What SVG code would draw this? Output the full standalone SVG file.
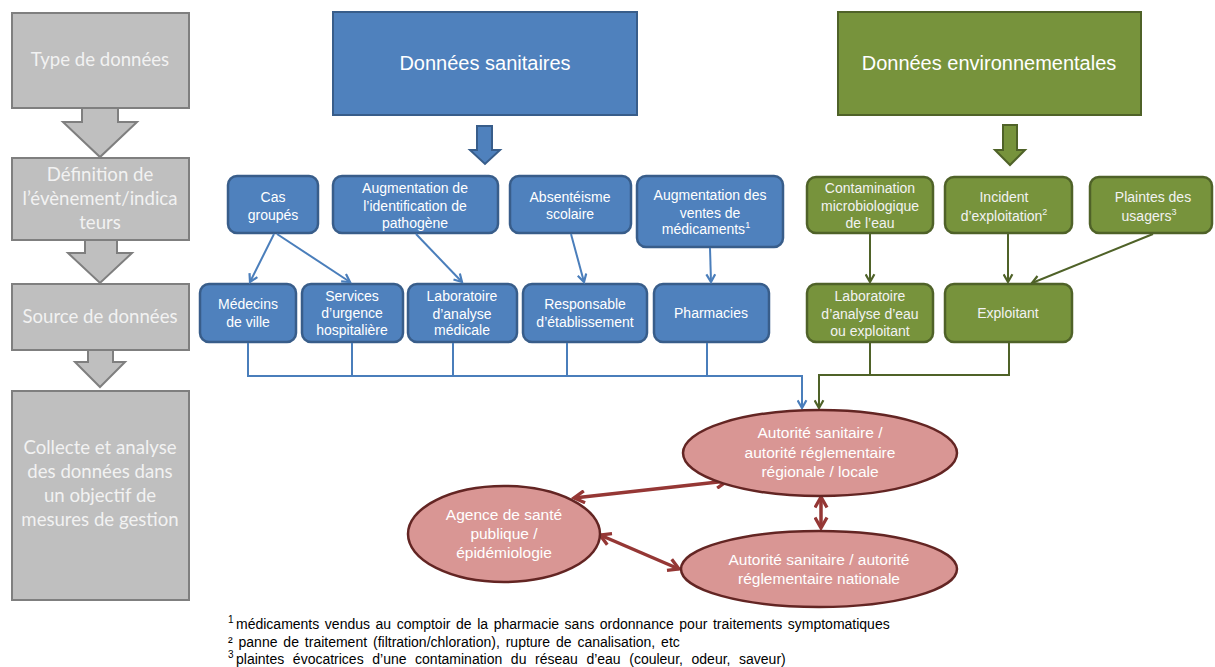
<svg xmlns="http://www.w3.org/2000/svg" width="1215" height="667" viewBox="0 0 1215 667">
<style>
.gbox{fill:#bfbfbf;stroke:#7f7f7f;stroke-width:2}
.gtxt{font-family:Lato,"Open Sans",sans-serif;font-size:18.6px;fill:#f2f2f2;text-anchor:middle}
.bbig{fill:#4f81bd;stroke:#385d8a;stroke-width:2}
.gbig{fill:#77933c;stroke:#4f6228;stroke-width:2}
.bsm{fill:#4f81bd;stroke:#385d8a;stroke-width:2.5}
.gsm{fill:#77933c;stroke:#4f6228;stroke-width:2.5}
.big{font-family:"Liberation Sans",Arial,sans-serif;font-size:20px;fill:#ffffff;text-anchor:middle}
.sm{font-family:"Liberation Sans",Arial,sans-serif;font-size:14px;fill:#ffffff;text-anchor:middle}
.smg{font-family:"Liberation Sans",Arial,sans-serif;font-size:14px;fill:#f2f2f2;text-anchor:middle}
.ell{fill:#d99694;stroke:#632523;stroke-width:2.5}
.etxt{font-family:"Liberation Sans",Arial,sans-serif;font-size:15.5px;fill:#ffffff;text-anchor:middle}
.sup{font-size:9px}
.bl{fill:none;stroke:#4a7ebb;stroke-width:2}
.gl{fill:none;stroke:#4f6228;stroke-width:2}
.rl{fill:none;stroke:#953735;stroke-width:3.5}
.fn{font-family:"Liberation Sans",Arial,sans-serif;font-size:14px;fill:#000000}
.fs{font-family:"Liberation Sans",Arial,sans-serif;font-size:10px;fill:#000000}
</style>
<defs>
<marker id="ab" viewBox="0 0 10 10" refX="8" refY="5" markerWidth="11" markerHeight="11" markerUnits="userSpaceOnUse" orient="auto">
<path d="M1,1 L8,5 L1,9" fill="none" stroke="#4a7ebb" stroke-width="2"/>
</marker>
<marker id="ag" viewBox="0 0 10 10" refX="8" refY="5" markerWidth="11" markerHeight="11" markerUnits="userSpaceOnUse" orient="auto">
<path d="M1,1 L8,5 L1,9" fill="none" stroke="#4f6228" stroke-width="2"/>
</marker>
<marker id="ar" viewBox="0 0 10 10" refX="8" refY="5" markerWidth="15" markerHeight="15" markerUnits="userSpaceOnUse" orient="auto-start-reverse">
<path d="M1,1 L8,5 L1,9" fill="none" stroke="#953735" stroke-width="2.2"/>
</marker>
</defs>
<rect width="1215" height="667" fill="#ffffff"/>

<g id="col-type">
<rect class="gbox" x="12" y="13" width="177" height="95"/>
<text class="gtxt" x="100" y="66">Type de données</text>
<polygon class="gbox" points="82,108 118,108 118,122 137,122 100,157 63,122 82,122"/>
</g>
<g id="col-definition">
<rect class="gbox" x="12" y="158" width="177" height="82"/>
<text class="gtxt" x="100"><tspan x="100" y="181">Définition de</tspan><tspan x="100" y="205">l’évènement/indica</tspan><tspan x="100" y="229">teurs</tspan></text>
<polygon class="gbox" points="85,240 117,240 117,253 132,253 100,283 68,253 85,253"/>
</g>
<g id="col-source">
<rect class="gbox" x="12" y="284" width="177" height="66"/>
<text class="gtxt" x="100" y="323">Source de données</text>
<polygon class="gbox" points="88,350 113,350 113,362 125,362 100,387 75,362 88,362"/>
</g>
<g id="col-collecte">
<rect class="gbox" x="12" y="391" width="177" height="209"/>
<text class="gtxt" x="100"><tspan x="100" y="454">Collecte et analyse</tspan><tspan x="100" y="478">des données dans</tspan><tspan x="100" y="502">un objectif de</tspan><tspan x="100" y="526">mesures de gestion</tspan></text>
</g>

<g id="donnees-sanitaires">
<rect class="bbig" x="333" y="12" width="304" height="103"/>
<text class="big" x="485" y="70">Données sanitaires</text>
<polygon class="bbig" points="477,126 492,126 492,150 500,150 485,164 470,150 477,150"/>
</g>
<g id="donnees-environnementales">
<rect class="gbig" x="838" y="12" width="303" height="103"/>
<text class="big" x="989" y="70">Données environnementales</text>
<polygon class="gbig" points="1003,125 1017,125 1017,150 1025,150 1010,165 995,150 1003,150"/>
</g>

<g id="cas-groupes">
<rect class="bsm" x="228" y="176" width="90" height="57" rx="9"/>
<text class="sm"><tspan x="273" y="202">Cas</tspan><tspan x="273" y="220">groupés</tspan></text>
</g>
<g id="augmentation-pathogene">
<rect class="bsm" x="333" y="176" width="165" height="57" rx="9"/>
<text class="sm"><tspan x="415" y="193">Augmentation de</tspan><tspan x="415" y="211">l’identification de</tspan><tspan x="415" y="228">pathogène</tspan></text>
</g>
<g id="absenteisme">
<rect class="bsm" x="510" y="176" width="121" height="57" rx="9"/>
<text class="sm"><tspan x="570" y="202">Absentéisme</tspan><tspan x="570" y="219">scolaire</tspan></text>
</g>
<g id="augmentation-ventes">
<rect class="bsm" x="637" y="176" width="146" height="71" rx="9"/>
<text class="sm"><tspan x="710" y="200">Augmentation des</tspan><tspan x="710" y="218">ventes de</tspan><tspan x="706" y="234">médicaments</tspan><tspan class="sup" dy="-6">1</tspan></text>
</g>
<g id="medecins">
<rect class="bsm" x="200" y="284" width="96" height="58" rx="9"/>
<text class="sm"><tspan x="248" y="309">Médecins</tspan><tspan x="248" y="327">de ville</tspan></text>
</g>
<g id="services-urgence">
<rect class="bsm" x="302" y="284" width="101" height="58" rx="9"/>
<text class="sm"><tspan x="352" y="301">Services</tspan><tspan x="352" y="318">d’urgence</tspan><tspan x="352" y="335">hospitalière</tspan></text>
</g>
<g id="laboratoire-medical">
<rect class="bsm" x="408" y="284" width="109" height="58" rx="9"/>
<text class="sm"><tspan x="462" y="301">Laboratoire</tspan><tspan x="462" y="319">d’analyse</tspan><tspan x="462" y="335">médicale</tspan></text>
</g>
<g id="responsable">
<rect class="bsm" x="523" y="284" width="124" height="58" rx="9"/>
<text class="sm"><tspan x="585" y="309">Responsable</tspan><tspan x="585" y="327">d’établissement</tspan></text>
</g>
<g id="pharmacies">
<rect class="bsm" x="654" y="284" width="115" height="58" rx="9"/>
<text class="sm" x="711" y="318">Pharmacies</text>
</g>

<g id="contamination">
<rect class="gsm" x="807" y="177" width="126" height="56" rx="9"/>
<text class="smg"><tspan x="870" y="193">Contamination</tspan><tspan x="870" y="211">microbiologique</tspan><tspan x="870" y="228">de l’eau</tspan></text>
</g>
<g id="incident">
<rect class="gsm" x="945" y="177" width="127" height="56" rx="9"/>
<text class="smg"><tspan x="1004" y="202">Incident</tspan><tspan x="1004" y="221">d’exploitation</tspan><tspan class="sup" dy="-6">2</tspan></text>
</g>
<g id="plaintes">
<rect class="gsm" x="1090" y="177" width="122" height="56" rx="9"/>
<text class="smg"><tspan x="1153" y="202">Plaintes des</tspan><tspan x="1149" y="221">usagers</tspan><tspan class="sup" dy="-6">3</tspan></text>
</g>
<g id="laboratoire-eau">
<rect class="gsm" x="807" y="284" width="126" height="58" rx="9"/>
<text class="smg"><tspan x="870" y="301">Laboratoire</tspan><tspan x="870" y="319">d’analyse d’eau</tspan><tspan x="870" y="336">ou exploitant</tspan></text>
</g>
<g id="exploitant">
<rect class="gsm" x="945" y="284" width="127" height="58" rx="9"/>
<text class="smg" x="1008" y="318">Exploitant</text>
</g>

<g id="connectors">
<path class="bl" d="M274,234 L250,282" marker-end="url(#ab)"/>
<path class="bl" d="M277,234 L350,282" marker-end="url(#ab)"/>
<path class="bl" d="M416,234 L462,282" marker-end="url(#ab)"/>
<path class="bl" d="M571,234 L584,282" marker-end="url(#ab)"/>
<path class="bl" d="M710,248 L711,282" marker-end="url(#ab)"/>
<path class="bl" d="M248,343 V376 H802 V408" marker-end="url(#ab)"/>
<path class="bl" d="M352,343 V376 M453,343 V376 M567,343 V376 M707,343 V376"/>
<path class="gl" d="M870,234 V282" marker-end="url(#ag)"/>
<path class="gl" d="M1008,234 V282" marker-end="url(#ag)"/>
<path class="gl" d="M1153,234 L1032,283" marker-end="url(#ag)"/>
<path class="gl" d="M870,343 V375 H819 V408" marker-end="url(#ag)"/>
<path class="gl" d="M1009,343 V375 H870"/>
<path class="rl" d="M574,498 L727,481" marker-start="url(#ar)" marker-end="url(#ar)"/>
<path class="rl" d="M600,535 L679,569" marker-start="url(#ar)" marker-end="url(#ar)"/>
<path class="rl" d="M821,497 V528" marker-start="url(#ar)" marker-end="url(#ar)"/>
</g>

<g id="autorite-regionale">
<ellipse class="ell" cx="820" cy="453" rx="137" ry="43"/>
<text class="etxt"><tspan x="820" y="438">Autorité sanitaire /</tspan><tspan x="820" y="458">autorité réglementaire</tspan><tspan x="820" y="477">régionale / locale</tspan></text>
</g>
<g id="agence-sante-publique">
<ellipse class="ell" cx="504" cy="534" rx="96" ry="48"/>
<text class="etxt"><tspan x="504" y="520">Agence de santé</tspan><tspan x="504" y="539">publique /</tspan><tspan x="504" y="558">épidémiologie</tspan></text>
</g>
<g id="autorite-nationale">
<ellipse class="ell" cx="819" cy="569" rx="138" ry="38"/>
<text class="etxt"><tspan x="819" y="565">Autorité sanitaire / autorité</tspan><tspan x="819" y="584">réglementaire nationale</tspan></text>
</g>

<g id="footnotes">
<text class="fs" x="228" y="623">1</text>
<text class="fn" x="236" y="629" word-spacing="1.7">médicaments vendus au comptoir de la pharmacie sans ordonnance pour traitements symptomatiques</text>
<text class="fn" x="228" y="647" word-spacing="2">² panne de traitement (filtration/chloration), rupture de canalisation, etc</text>
<text class="fs" x="228" y="658">3</text>
<text class="fn" x="236" y="664" word-spacing="4.7">plaintes évocatrices d’une contamination du réseau d’eau (couleur, odeur, saveur)</text>
</g>
</svg>
